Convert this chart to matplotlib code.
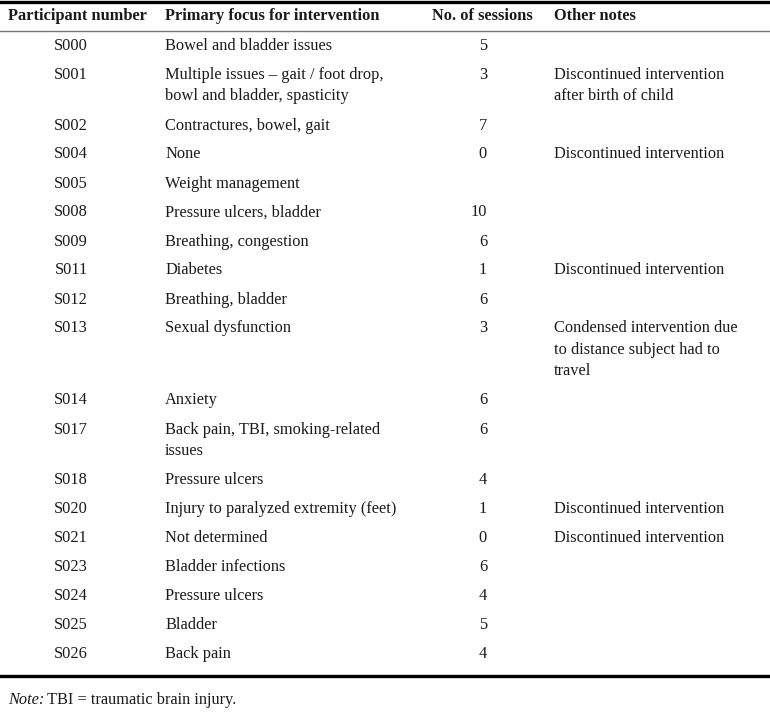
import matplotlib.pyplot as plt
from matplotlib.lines import Line2D

participants = ["S000", "S001", "S002", "S004", "S005", "S008", "S009", "S011", "S012",
                "S013", "S014", "S017", "S018", "S020", "S021", "S023", "S024", "S025", "S026"]
focus = ["Bowel and bladder issues",
         "Multiple issues \u2013 gait / foot drop,\nbowl and bladder, spasticity",
         "Contractures, bowel, gait",
         "None",
         "Weight management",
         "Pressure ulcers, bladder",
         "Breathing, congestion",
         "Diabetes",
         "Breathing, bladder",
         "Sexual dysfunction",
         "Anxiety",
         "Back pain, TBI, smoking-related\nissues",
         "Pressure ulcers",
         "Injury to paralyzed extremity (feet)",
         "Not determined",
         "Bladder infections",
         "Pressure ulcers",
         "Bladder",
         "Back pain"]
sessions = ["5", "3", "7", "0", "", "10", "6", "1", "6", "3", "6", "6", "4", "1", "0", "6", "4", "5", "4"]
notes = ["", "Discontinued intervention\nafter birth of child", "", "Discontinued intervention", "",
         "", "", "Discontinued intervention", "",
         "Condensed intervention due\nto distance subject had to\ntravel",
         "", "", "", "Discontinued intervention", "Discontinued intervention", "", "", "", ""]
headers = ["Participant number", "Primary focus for intervention", "No. of sessions", "Other notes"]

W, H = 770, 712
fig = plt.figure(figsize=(W / 100, H / 100), dpi=100)
fig.patch.set_facecolor("white")

FONT = "Liberation Serif"
FS = 11.8
LINE = 21.5


def fx(x):
    return x / W


def fy(y):
    return 1 - y / H


def txt(x, y, s, ha="left", **kw):
    fig.text(fx(x), fy(y), s, ha=ha, va="top", family=FONT, fontsize=FS,
             linespacing=1.45, color="#1a1a1a", **kw)


def hline(y, lw, color):
    fig.add_artist(Line2D([0, 1], [fy(y), fy(y)], lw=lw, color=color,
                          transform=fig.transFigure))


hline(1.5, 2.4, "black")
hline(31, 1.0, "#777777")
hline(676, 2.4, "black")

# header
hy = 8
txt(8, hy, headers[0], weight="bold")
txt(165, hy, headers[1], weight="bold")
txt(533, hy, headers[2], ha="right", weight="bold")
txt(554, hy, headers[3], weight="bold")

y = 38
for p, f, s, n in zip(participants, focus, sessions, notes):
    txt(71, y, p, ha="center")
    txt(165, y, f)
    txt(487, y, s, ha="right")
    txt(554, y, n)
    nlines = max(f.count("\n"), n.count("\n")) + 1
    y += 29 + (nlines - 1) * LINE

fig.text(fx(8), fy(692), "Note:", ha="left", va="top", family=FONT, fontsize=FS,
         style="italic", color="#1a1a1a")
fig.text(fx(47), fy(692), "TBI = traumatic brain injury.", ha="left", va="top",
         family=FONT, fontsize=FS, color="#1a1a1a")

fig.savefig("out.png", dpi=100, facecolor="white")
